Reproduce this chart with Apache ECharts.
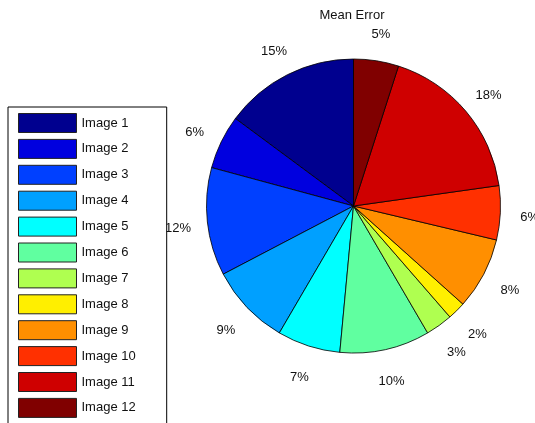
<!DOCTYPE html>
<html>
<head>
<meta charset="utf-8">
<script src="https://cdn.jsdelivr.net/npm/echarts@6/dist/echarts.min.js"></script>
<style>
  html, body { margin: 0; padding: 0; background: #fff; }
  #chart { width: 535px; height: 423px; }
</style>
</head>
<body>
<div id="chart"></div>
<script>
// Mean error share per image (percent)
const categories = ['Image 1', 'Image 2', 'Image 3', 'Image 4', 'Image 5', 'Image 6',
                    'Image 7', 'Image 8', 'Image 9', 'Image 10', 'Image 11', 'Image 12'];
const meanError = [15, 6, 12, 9, 7, 10, 3, 2, 8, 6, 18, 5];
// jet colormap, sampled for 12 slices
const sliceColors = ['#00008f', '#0000df', '#0040ff', '#00a0ff', '#00ffff', '#60ffa0',
                     '#afff50', '#ffef00', '#ff8f00', '#ff3000', '#cf0000', '#800000'];

const FONT = '"Liberation Sans", Arial, sans-serif';
const cx = 353.5, cy = 206, R = 147;

const pieData = categories.map((name, i) => ({
  name,
  value: meanError[i],
  itemStyle: { color: sliceColors[i] }
}));

const chart = echarts.init(document.getElementById('chart'), null, { renderer: 'canvas' });
chart.setOption({
  animation: false,
  backgroundColor: '#fff',
  graphic: [{
    type: 'text',
    x: 352, y: 15,
    style: { text: 'Mean Error', font: '13px ' + FONT, fill: '#111', align: 'center', verticalAlign: 'middle' }
  }],
  legend: {
    orient: 'vertical',
    left: 8, top: 107,
    height: 330,
    padding: [6, 31, 6, 10],
    itemWidth: 58, itemHeight: 19, itemGap: 5.9,
    icon: 'rect',
    z: 10,
    backgroundColor: '#fff',
    borderColor: '#000', borderWidth: 1,
    selectedMode: false,
    data: categories.map((name, i) => ({ name, itemStyle: { color: sliceColors[i], borderColor: '#222', borderWidth: 1 } })),
    textStyle: { fontFamily: FONT, fontSize: 13, color: '#111' }
  },
  series: [
    {
      type: 'pie',
      name: 'Mean Error',
      center: [cx, cy],
      radius: [0, R],
      startAngle: 90,
      clockwise: false,
      silent: true,
      itemStyle: { borderColor: '#000', borderWidth: 0.8 },
      label: { show: false },
      labelLine: { show: false },
      data: pieData
    },
    {
      // transparent ring whose midline carries the percentage labels
      type: 'pie',
      name: 'labels',
      center: [cx, cy],
      radius: [R, R * 1.36],
      startAngle: 90,
      clockwise: false,
      silent: true,
      z: 1,
      itemStyle: { color: 'rgba(0,0,0,0)', borderWidth: 0 },
      label: {
        show: true,
        position: 'inside',
        formatter: '{c}%',
        offset: [0, 3],
        fontFamily: FONT,
        fontSize: 13,
        color: '#111'
      },
      labelLine: { show: false },
      data: categories.map((name, i) => ({ name, value: meanError[i] }))
    }
  ]
});
</script>
</body>
</html>
